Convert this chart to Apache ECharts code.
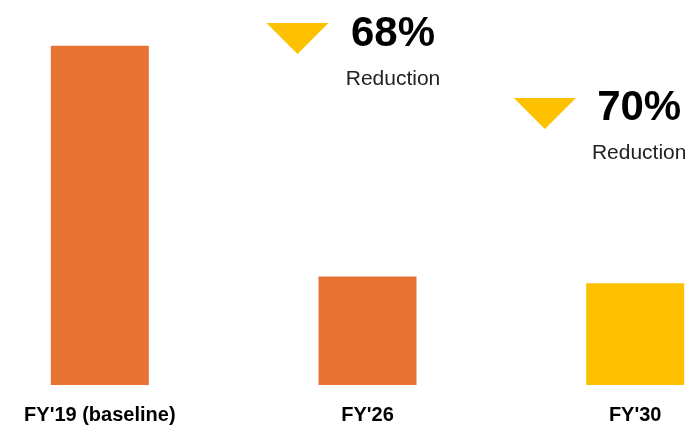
<!DOCTYPE html>
<html>
<head>
<meta charset="utf-8">
<script src="https://cdn.jsdelivr.net/npm/echarts@6/dist/echarts.min.js"></script>
<style>
html,body{margin:0;padding:0;background:#fff;}
#chart{width:685px;height:434px;}
</style>
</head>
<body>
<div id="chart"></div>
<script>
const categories = ["FY'19 (baseline)", "FY'26", "FY'30"];
const values = [100, 32, 30];
const barColors = ['#E87232', '#E87232', '#FDC100'];
const reductionCategories = ["FY'26", "FY'30"];
const reductionLabels = ['68%', '70%'];

const YELLOW = '#FDC100';
const FONT = '"Liberation Sans", Arial, sans-serif';

// annotation placement (value-space anchor + pixel offset)
const triY = [102.1, 80.0];
const triOffX = [-70, -90.3];
const txtY = [96.8, 75.0];
const txtOffX = [25.5, 4];

const markData = [];
reductionCategories.forEach((c, i) => {
  markData.push({
    coord: [c, triY[i]],
    symbol: 'triangle',
    symbolRotate: 180,
    symbolSize: [62, 31],
    symbolOffset: [triOffX[i], 0],
    itemStyle: { color: YELLOW },
    label: { show: false }
  });
  markData.push({
    coord: [c, txtY[i]],
    symbol: 'circle',
    symbolSize: 1,
    symbolOffset: [txtOffX[i], 0],
    itemStyle: { color: 'rgba(0,0,0,0)' },
    label: {
      show: true,
      position: 'inside',
      align: 'center',
      verticalAlign: 'middle',
      formatter: '{a|' + reductionLabels[i] + '}\n{b|Reduction}',
      rich: {
        a: { fontSize: 42, fontWeight: 'bold', color: '#000', fontFamily: FONT, lineHeight: 46, align: 'center' },
        b: { fontSize: 21, color: '#222', fontFamily: FONT, lineHeight: 44, align: 'center' }
      }
    }
  });
});

const chart = echarts.init(document.getElementById('chart'), null, { renderer: 'canvas' });
chart.setOption({
  animation: false,
  backgroundColor: '#fff',
  grid: { left: -34, width: 803, top: -22.2, bottom: 49, outerBoundsMode: 'none', containLabel: false },
  xAxis: {
    type: 'category',
    data: categories,
    axisLine: { show: false },
    axisTick: { show: false },
    axisLabel: { margin: 20, fontSize: 20, fontWeight: 'bold', color: '#000', fontFamily: FONT, interval: 0, hideOverlap: false }
  },
  yAxis: {
    type: 'value',
    min: 0,
    max: 120,
    show: false,
    splitLine: { show: false }
  },
  series: [{
    type: 'bar',
    barWidth: 98,
    data: values.map((v, i) => ({ value: v, itemStyle: { color: barColors[i] } })),
    markPoint: { silent: true, animation: false, data: markData }
  }]
});
</script>
</body>
</html>
